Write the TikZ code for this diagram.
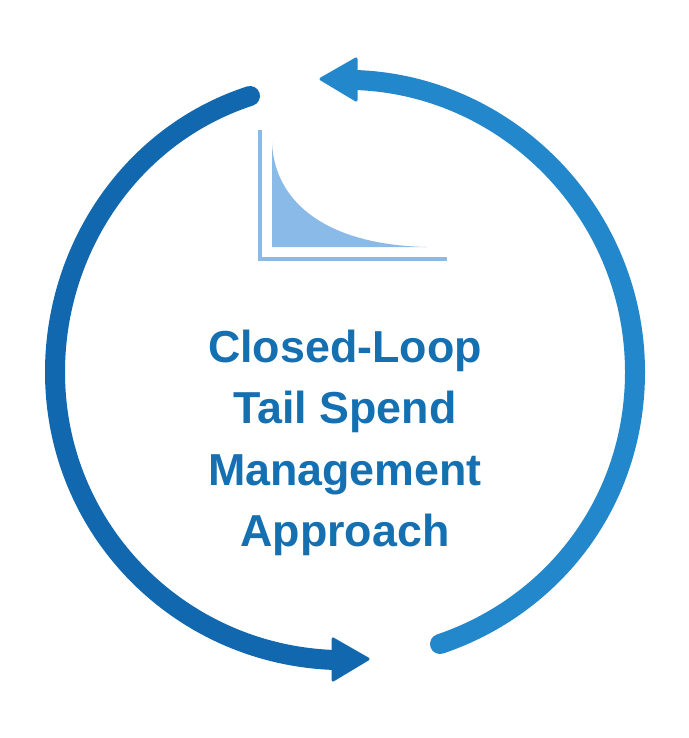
\documentclass[tikz,border=0pt]{standalone}
\usepackage{fontspec}
\setmainfont{Liberation Sans}
\definecolor{darkarc}{HTML}{1268AE}
\definecolor{lightarc}{HTML}{2387CB}
\definecolor{tailfill}{HTML}{8ABBE8}
\definecolor{titlecol}{HTML}{1570B2}
\tikzset{px/.style={x=1pt,y=-1pt},
arcline/.style={line width=20pt,line cap=round},
headfill/.style={line width=3pt,line join=round},
titletext/.style={font=\bfseries\fontsize{44.8}{61.3}\selectfont,text=titlecol,align=center,inner sep=0pt}}
\begin{document}
\begin{tikzpicture}[px]
\useasboundingbox (0,0) rectangle (688,738);
\fill[white] (0,0) rectangle (688,738);
\draw[arcline,darkarc] (250,96) .. controls (130,135) and (55,250) .. (55,372) .. controls (55,530) and (180,655) .. (335,660);
\draw[headfill,darkarc,fill=darkarc] (368,659) -- (333,639) -- (333,680) -- cycle;
\draw[arcline,lightarc] (440,644) .. controls (555,605) and (635,500) .. (635,372) .. controls (635,215) and (510,85) .. (355,80);
\draw[headfill,lightarc,fill=lightarc] (321,79) -- (356,59) -- (356,100) -- cycle;
\fill[tailfill] (272,143) .. controls (275,205) and (330,245) .. (427,247) -- (272,247) -- cycle;
\draw[tailfill,line width=4pt] (260,130) -- (260,259) -- (447,259);
\node[titletext] (t) at (345,443) {Closed-Loop\\Tail Spend\\Management\\Approach};
\end{tikzpicture}
\end{document}
